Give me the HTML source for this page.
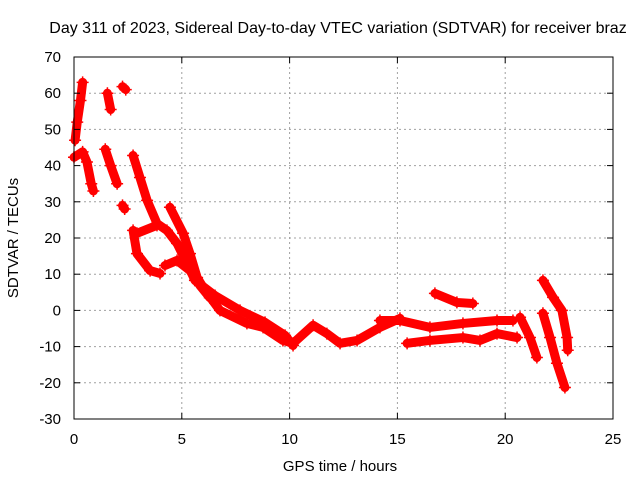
<!DOCTYPE html>
<html><head><meta charset="utf-8"><style>
body{margin:0;background:#fff;}
svg{display:block;font-family:"Liberation Sans",sans-serif;}
</style></head><body>
<svg id="chart" width="640" height="480">
<rect width="640" height="480" fill="#fff"/>
<text x="338" y="33" font-size="16" text-anchor="middle">Day 311 of 2023, Sidereal Day-to-day VTEC variation (SDTVAR) for receiver braz</text>
<text x="18" y="238" font-size="15" text-anchor="middle" transform="rotate(-90 18 238)">SDTVAR / TECUs</text>
<text x="340" y="471" font-size="15" text-anchor="middle">GPS time / hours</text>
<g id="grid"></g><g id="marks"></g>
<rect x="74" y="57" width="539" height="362" fill="none" stroke="#000" stroke-width="1"/>
<g id="ticks"></g>
</svg>
<script>
const xTicks=[0,5,10,15,20,25];
const yTicks=[70,60,50,40,30,20,10,0,-10,-20,-30];
const trackA_t=[0.05,0.15,0.3,0.4];const trackA_v=[47,52,58,63];
const trackB_t=[0,0.4,0.6,0.8,0.9];const trackB_v=[42.3,43.8,41,35,33];
const trackC_t=[1.45,1.7,2.0];const trackC_v=[44.5,40,35];
const trackD_t=[1.55,1.7];const trackD_v=[60,55.5];
const blob1_t=[2.25,2.4];const blob1_v=[61.8,61];
const blob2_t=[2.25,2.35];const blob2_v=[29,28];
const trackE_t=[2.74,3.06,3.39,3.85,4.31,4.78,5.24,5.61,6.54,7.7,8.86,9.79,10.16];
const trackE_v=[42.8,36.7,30.4,24.0,22.1,18.5,13.0,8.3,4.1,0,-3.3,-6.9,-9.7];
const trackF_t=[4.45,5.06,5.38,5.71,6.08,6.77,8.02,8.77,9.69,10.16,11.09,11.73,12.34,13.13,14.19,15.12];
const trackF_v=[28.5,21.3,15.7,9.1,5.5,0,-3.6,-4.7,-8.3,-9.1,-4.1,-6.4,-9.1,-8.3,-4.7,-2.2];
const trackG_t=[2.74,2.92,3.53,3.99];const trackG_v=[22.1,15.7,11.0,10.2];
const trackH_t=[2.92,3.85];const trackH_v=[21.3,23.5];
const trackI_t=[4.22,4.78,5.38,5.84,6.3];const trackI_v=[12.4,13.8,11.0,6.9,3.5];
const trackJ_t=[16.74,17.76,18.5];const trackJ_v=[4.7,2.2,1.9];
const trackK_t=[14.19,15.12,16.51,18.04,19.62,20.36];const trackK_v=[-2.8,-2.8,-4.7,-3.6,-2.8,-2.8];
const trackL_t=[15.45,16.51,18.04,18.83,19.62,20.55];const trackL_v=[-9.1,-8.3,-7.5,-8.3,-6.4,-7.5];
const trackM_t=[20.69,21.15,21.47];const trackM_v=[-1.9,-7.5,-13];
const trackN_t=[21.75,22.22,22.63,22.87,22.9];const trackN_v=[8.3,3.6,0,-7.5,-11];
const trackO_t=[21.75,22.08,22.4,22.77];const trackO_v=[-0.8,-7.5,-14.6,-21.3];
const tracks=[[trackA_t,trackA_v],[trackB_t,trackB_v],[trackC_t,trackC_v],[trackD_t,trackD_v],[blob1_t,blob1_v],[blob2_t,blob2_v],[trackE_t,trackE_v],[trackF_t,trackF_v],[trackG_t,trackG_v],[trackH_t,trackH_v],[trackI_t,trackI_v],[trackJ_t,trackJ_v],[trackK_t,trackK_v],[trackL_t,trackL_v],[trackM_t,trackM_v],[trackN_t,trackN_v],[trackO_t,trackO_v]];
const X0=74,X1=613,Y0=419,Y1=57;
function xs(t){return X0+(t-0)/25*(X1-X0);}
function ys(v){return Y0-(v+30)/100*(Y0-Y1);}
const NS='http://www.w3.org/2000/svg';
const grid=document.getElementById('grid'),ticks=document.getElementById('ticks'),marks=document.getElementById('marks');
function mk(tag,attrs,parent){const e=document.createElementNS(NS,tag);for(const k in attrs)e.setAttribute(k,attrs[k]);parent.appendChild(e);return e;}
xTicks.forEach(t=>{const x=xs(t);
 if(t>0&&t<25){const g=mk('line',{x1:x,x2:x,y1:Y1,y2:Y0,stroke:'#a0a0a0','stroke-dasharray':'2,3'},grid);
 
 }
 mk('line',{x1:x,x2:x,y1:Y0,y2:Y0-6,stroke:'#000'},ticks);mk('line',{x1:x,x2:x,y1:Y1,y2:Y1+6,stroke:'#000'},ticks);
 const l=mk('text',{x:x,y:444,'font-size':15,'text-anchor':'middle'},ticks);l.textContent=t;
 
 });
yTicks.forEach(v=>{const y=ys(v);
 if(v>-30&&v<70){const g=mk('line',{x1:X0,x2:X1,y1:y,y2:y,stroke:'#a0a0a0','stroke-dasharray':'2,3'},grid);
 
 }
 mk('line',{x1:X0,x2:X0+6,y1:y,y2:y,stroke:'#000'},ticks);mk('line',{x1:X1,x2:X1-6,y1:y,y2:y,stroke:'#000'},ticks);
 const l=mk('text',{x:61,y:y+5,'font-size':15,'text-anchor':'end'},ticks);l.textContent=v;
 
 });
tracks.forEach(([T,V])=>{
 const pts=T.map((t,i)=>xs(t)+','+ys(V[i])).join(' ');
 const pl=mk('polyline',{points:pts,fill:'none',stroke:'#ff0000','stroke-width':9,'stroke-linejoin':'round','stroke-linecap':'round'},marks);
 
 
 T.forEach((t,i)=>{const x=xs(t),y=ys(V[i]);
  const p=mk('path',{d:`M${x-6},${y}H${x+6}M${x},${y-6}V${y+6}`,stroke:'#ff0000','stroke-width':1.5},marks);
  
  });
});
</script>
</body></html>
